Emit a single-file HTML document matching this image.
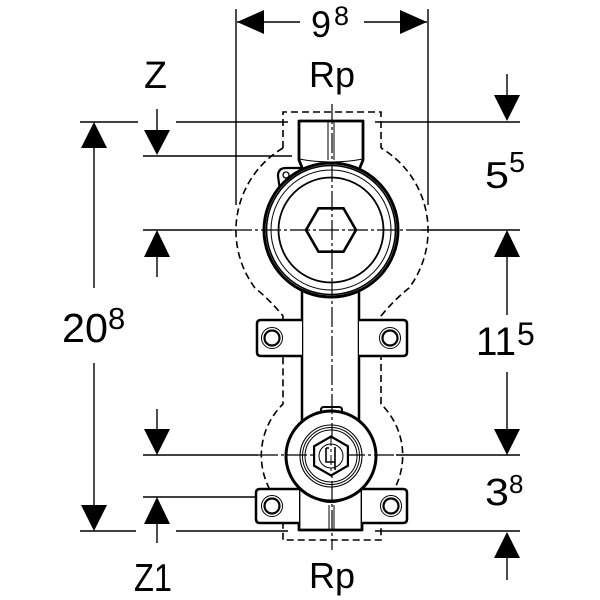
<!DOCTYPE html>
<html><head><meta charset="utf-8"><style>html,body{margin:0;padding:0;background:#fff}svg{display:block}</style></head>
<body>
<svg width="600" height="600" viewBox="0 0 600 600" xmlns="http://www.w3.org/2000/svg">
<rect width="600" height="600" fill="#fff"/>

<!-- dashed installation outline -->
<g fill="none" stroke="#000" stroke-width="1.6" stroke-dasharray="7 4">
  <path d="M283,148 L283,112 L381,112 L381,148"/>
  <path d="M283,148 A96,96 0 0 0 255,288 Q270,300 283,316 L283,404 A72,72 0 0 0 283,507 L283,540 L381,540 L381,507 A72,72 0 0 0 381,404 L381,316 Q394,300 409,288 A96,96 0 0 0 381,148"/>
</g>

<!-- dimension lines -->
<g stroke="#000" stroke-width="1.4" fill="none">
  <line x1="236" y1="9" x2="236" y2="205"/>
  <line x1="428" y1="9" x2="428" y2="205"/>
  <line x1="237" y1="22" x2="300" y2="22"/>
  <line x1="364" y1="22" x2="427" y2="22"/>
  <line x1="80" y1="122" x2="138" y2="122"/>
  <line x1="176" y1="122" x2="288" y2="122"/>
  <line x1="375" y1="122" x2="520" y2="122"/>
  <line x1="143" y1="156" x2="292" y2="156"/>
  <line x1="143" y1="230" x2="232" y2="230"/>
  <line x1="421" y1="230" x2="520" y2="230"/>
  <line x1="143" y1="455" x2="258" y2="455"/>
  <line x1="396" y1="455" x2="520" y2="455"/>
  <line x1="143" y1="497" x2="304" y2="497"/>
  <line x1="80" y1="531" x2="136" y2="531"/>
  <line x1="176" y1="531" x2="288" y2="531"/>
  <line x1="375" y1="531" x2="520" y2="531"/>
  <line x1="94" y1="146" x2="94" y2="288"/>
  <line x1="94" y1="363" x2="94" y2="507"/>
  <line x1="157" y1="109" x2="157" y2="132"/>
  <line x1="157" y1="255" x2="157" y2="277"/>
  <line x1="157" y1="409" x2="157" y2="431"/>
  <line x1="157" y1="522" x2="157" y2="543"/>
  <line x1="507" y1="74" x2="507" y2="97"/>
  <line x1="507" y1="255" x2="507" y2="315"/>
  <line x1="507" y1="372" x2="507" y2="431"/>
  <line x1="507" y1="556" x2="507" y2="580"/>
</g>
<g fill="#000">
  <polygon points="237,22 264,10 264,34"/>
  <polygon points="427,22 400,10 400,34"/>
  <polygon points="94,122 81,148 107,148"/>
  <polygon points="94,531 81,505 107,505"/>
  <polygon points="157,155 144,130 170,130"/>
  <polygon points="157,230 144,257 170,257"/>
  <polygon points="157,455 144,429 170,429"/>
  <polygon points="157,497 144,524 170,524"/>
  <polygon points="507,121 494,95 520,95"/>
  <polygon points="507,230 494,257 520,257"/>
  <polygon points="507,455 494,429 520,429"/>
  <polygon points="507,532 494,558 520,558"/>
</g>

<!-- body -->
<g stroke="#000" fill="#fff" stroke-linejoin="round">
  <rect x="302" y="280" width="57" height="145" stroke-width="2.5"/>
  <path d="M299,121 L363,121 L363,160 L359,170 L303,170 L299,160 Z" stroke-width="2.8"/>
  <path d="M299,159 Q331,165 363,159" fill="none" stroke-width="1"/>
  <line x1="328" y1="121" x2="328" y2="160" stroke-width="1"/>
  <line x1="334" y1="121" x2="334" y2="160" stroke-width="1"/>
  <path d="M281,198 L278,176 Q278,168 286,168 L300,168 L300,190 Z" stroke-width="2.2"/>
  <circle cx="286" cy="175" r="3" stroke-width="1.3"/>
  <path d="M302,286 Q331,308 359,286" stroke-width="2.2"/>
  <path d="M305,289 Q331,302 356,289" fill="none" stroke-width="1"/>
  <circle cx="331" cy="230" r="67" stroke-width="3"/>
  <circle cx="331" cy="230" r="64.5" fill="none" stroke-width="1.6"/>
  <circle cx="331" cy="230" r="60" fill="none" stroke-width="1"/>
  <circle cx="331" cy="230" r="52.5" fill="none" stroke-width="1.8"/>
  <path d="M302,320 L261,320 Q257,320 257,324 L257,352 Q257,356 261,356 L302,356" stroke-width="2.5"/>
  <path d="M359,320 L403,320 Q407,320 407,324 L407,352 Q407,356 403,356 L359,356" stroke-width="2.5"/>
  <circle cx="272" cy="338" r="10.5" stroke-width="1"/>
  <circle cx="272" cy="338" r="7.5" stroke-width="2.2"/>
  <circle cx="390" cy="338" r="10.5" stroke-width="1"/>
  <circle cx="390" cy="338" r="7.5" stroke-width="2.2"/>
  <path d="M299,488 L299,530 L362,530 L362,488 Z" stroke-width="2.8"/>
  <line x1="329" y1="505" x2="329" y2="530" stroke-width="1"/>
  <line x1="334" y1="505" x2="334" y2="530" stroke-width="1"/>
  <path d="M299,489 L260,489 Q256,489 256,493 L256,519 Q256,523 260,523 L299,523" stroke-width="2.5"/>
  <path d="M362,489 L403,489 Q407,489 407,493 L407,519 Q407,523 403,523 L362,523" stroke-width="2.5"/>
  <circle cx="272" cy="506" r="10.5" stroke-width="1"/>
  <circle cx="272" cy="506" r="7.5" stroke-width="2.2"/>
  <circle cx="391" cy="506" r="10.5" stroke-width="1"/>
  <circle cx="391" cy="506" r="7.5" stroke-width="2.2"/>
  <path d="M303,490 Q331,514 359,490" stroke-width="2"/>
  <path d="M321,416 L321,410 Q321,407 324,407 L339,407 Q342,407 342,410 L342,416 Z" stroke-width="2"/>
  <circle cx="331" cy="456" r="45" stroke-width="3"/>
  <circle cx="331" cy="456" r="31" fill="none" stroke-width="1.1"/>
  <circle cx="331" cy="456" r="28.5" fill="none" stroke-width="1"/>
  <circle cx="331" cy="456" r="26" fill="none" stroke-width="1"/>
</g>

<!-- centerlines -->
<g stroke="#000" stroke-width="1.2" fill="none" stroke-dasharray="20 3 3 3">
  <line x1="332" y1="104" x2="332" y2="550"/>
  <line x1="232" y1="230" x2="421" y2="230"/>
  <line x1="258" y1="455" x2="396" y2="455"/>
</g>

<!-- hexes & slot -->
<g stroke="#000" fill="none" stroke-linejoin="miter">
  <polygon points="306,230 318.5,208.3 343.5,208.3 356,230 343.5,251.7 318.5,251.7" stroke-width="2.6"/>
  <polygon points="331,436.5 347.9,446.3 347.9,465.7 331,475.5 314.1,465.7 314.1,446.3" stroke-width="2.2" fill="#fff"/>
  <circle cx="331" cy="456" r="12" stroke-width="1"/>
  <path d="M326,448 L326,462 L335,462 M335,447 L335,470 M326,448 L329,448" stroke-width="1.6"/>
  <line x1="331" y1="436" x2="331" y2="476" stroke-width="1" stroke-dasharray="10 3 3 3"/>
</g>

<!-- labels -->
<g font-family="'Liberation Sans', sans-serif" fill="#000">
  <text x="311" y="37" font-size="37" textLength="20" lengthAdjust="spacingAndGlyphs">9</text>
  <text x="334" y="25" font-size="27">8</text>
  <text x="309" y="87" font-size="36" textLength="46" lengthAdjust="spacingAndGlyphs">Rp</text>
  <text x="144" y="88" font-size="38" textLength="23" lengthAdjust="spacingAndGlyphs">Z</text>
  <text x="62" y="342" font-size="41" textLength="46" lengthAdjust="spacingAndGlyphs">20</text>
  <text x="108" y="329" font-size="31">8</text>
  <text x="485" y="188" font-size="37" textLength="24" lengthAdjust="spacingAndGlyphs">5</text>
  <text x="509" y="172" font-size="29">5</text>
  <text x="476" y="355" font-size="40" textLength="40" lengthAdjust="spacingAndGlyphs">11</text>
  <text x="517" y="345" font-size="32">5</text>
  <text x="485" y="505" font-size="38" textLength="24" lengthAdjust="spacingAndGlyphs">3</text>
  <text x="509" y="493" font-size="26">8</text>
  <text x="134" y="591" font-size="39" textLength="38" lengthAdjust="spacingAndGlyphs">Z1</text>
  <text x="309" y="588" font-size="36" textLength="46" lengthAdjust="spacingAndGlyphs">Rp</text>
</g>
</svg>
</body></html>
